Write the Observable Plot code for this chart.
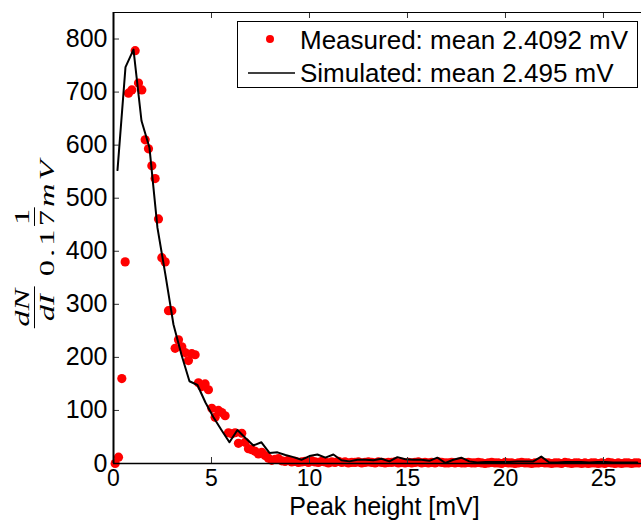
<!DOCTYPE html>
<html>
<head>
<meta charset="utf-8">
<script src="https://cdn.jsdelivr.net/npm/d3@7"></script>
<script src="https://cdn.jsdelivr.net/npm/@observablehq/plot@0.6"></script>
<style>
  html, body { margin: 0; padding: 0; background: white; }
  #wrap { position: relative; width: 641px; height: 526px; overflow: hidden; }
  #ylab { position: absolute; left: 35px; top: 242px; white-space: nowrap;
    transform: translate(-50%, -50%) rotate(-90deg) scaleX(1.55);
    font-family: "Liberation Serif", serif; font-style: italic; font-size: 21px;
    display: flex; align-items: center; color: black; }
  .frac { display: inline-flex; flex-direction: column; align-items: center; }
  .frac .num { padding: 0 1px 1px 1px; border-bottom: 1.3px solid black; line-height: 1; }
  .frac .den { padding: 2px 1px 0 1px; line-height: 1; }
  .up { font-style: normal; }
  #legend { position: absolute; left: 237px; top: 21px; width: 401px; height: 67px;
    border: 1px solid black; background: white; box-sizing: border-box;
    font-family: "Liberation Sans", Arial, sans-serif; font-size: 26px; color: black; }
  #legend .t { position: absolute; left: 62px; line-height: 26px; white-space: nowrap; }
</style>
</head>
<body>
<div id="wrap"></div>
<script>
// Measured histogram (bin width 0.17 mV)
const measuredBinWidth = 0.17;
const measuredFirstCenter = 0.085;
const measuredCounts = [
  0, 12, 160, 380, 698, 704, 778, 717, 704, 610,
  593, 561, 537, 461, 388, 380, 288, 288, 217, 233,
  220, 209, 194, 207, 205, 152, 145, 150, 139, 104,
  87, 100, 96, 90, 58, 56, 58, 38, 57, 40,
  28, 26, 23, 18, 21, 15, 10, 6, 8, 9,
  5, 4, 6, 3, 4, 2,
  3, 4, 2, 5, 3, 2, 4, 3, 1, 3, 2, 4, 2, 3, 1, 2,
  2, 3, 1, 2, 3, 2, 1, 3, 2, 1, 2, 2, 3, 1, 2, 1,
  2, 1, 2, 3, 1, 2, 1, 2, 1, 3, 2, 1, 1, 2, 1, 2, 1, 1,
  2, 1, 1, 2, 1, 0, 1, 2, 1, 1, 0, 2, 1, 1, 0, 1, 2, 1, 1, 0, 1, 1, 2, 1,
  1, 0, 1, 1, 0, 2, 1, 0, 1, 1, 0, 1, 0, 1, 1, 0, 1, 0, 2, 1, 0, 1, 0, 1, 1, 0, 1, 1
];
// Simulated curve (coarser bins)
const simulatedBinWidth = 0.408;
const simulatedFirstCenter = 0.204;
const simulatedCounts = [
  553, 747, 780, 646, 595, 444, 355, 262, 205, 155,
  148, 115, 87, 63, 40, 63, 48, 34, 40, 20,
  21, 16, 12, 7, 14, 17, 11, 17, 6, 4,
  7, 7, 6, 9, 4, 12, 8, 7, 7, 5,
  11, 1, 7, 11, 4, 2, 3, 3, 3, 3,
  4, 4, 4, 13, 2, 2, 3, 3, 3, 2,
  3, 3, 2, 2, 2, 2
];
const xTicks = [0, 5, 10, 15, 20, 25];
const yTicks = [0, 100, 200, 300, 400, 500, 600, 700, 800];
const xLabel = "Peak height [mV]";
const legendLabels = ["Measured: mean 2.4092 mV", "Simulated: mean 2.495 mV"];

const measured = measuredCounts.map((v, i) => ({x: measuredFirstCenter + i * measuredBinWidth, y: v}));
const simulated = simulatedCounts.map((v, i) => ({x: simulatedFirstCenter + i * simulatedBinWidth, y: v}));

const W = 641, H = 526, mL = 113, mT = 12, mB = 63;
const frameH = H - mT - mB, frameW = W - mL;

const chart = Plot.plot({
  width: W, height: H,
  marginLeft: mL, marginRight: 0, marginTop: mT, marginBottom: mB,
  style: {fontFamily: "'Liberation Sans', Arial, sans-serif", fontSize: "25px", color: "black", background: "white"},
  x: {domain: [0, 26.94]},
  y: {domain: [0, 850]},
  marks: [
    Plot.dot(measured, {x: "x", y: "y", r: 4.6, fill: "#ff0000", stroke: "none"}),
    Plot.line(simulated, {x: "x", y: "y", stroke: "black", strokeWidth: 2}),
    // inward tick marks (MATLAB style)
    Plot.tickX(xTicks, {x: d => d, stroke: "#333", strokeWidth: 1, insetTop: frameH - 6}),
    Plot.tickX(xTicks, {x: d => d, stroke: "#333", strokeWidth: 1, insetBottom: frameH - 6}),
    Plot.tickY(yTicks, {y: d => d, stroke: "#333", strokeWidth: 1, insetRight: frameW - 6}),
    Plot.axisX(xTicks, {tickSize: 0, tickPadding: 6, label: null, fontSize: 23}),
    Plot.axisY(yTicks, {tickSize: 0, tickPadding: 6, label: null}),
    Plot.ruleY([0], {stroke: "black", strokeWidth: 1.5}),
    Plot.ruleY([850], {stroke: "black", strokeWidth: 1}),
    Plot.ruleX([0], {stroke: "black", strokeWidth: 2}),
    Plot.text([xLabel], {frameAnchor: "bottom", text: d => d, dx: 7, dy: 51, fontSize: 25})
  ]
});

const wrap = document.getElementById("wrap");
wrap.appendChild(chart);

// y-axis label: dN/dI * 1/(0.17 mV)
const ylab = document.createElement("div");
ylab.id = "ylab";
ylab.innerHTML =
  '<span class="frac"><span class="num">dN</span><span class="den">dI</span></span>' +
  '<span class="frac" style="margin-left:6px"><span class="num up">1</span><span class="den" style="letter-spacing:2px"><span class="up">0.17</span>mV</span></span>';
wrap.appendChild(ylab);

// legend
const legend = document.createElement("div");
legend.id = "legend";
legend.innerHTML =
  '<svg width="60" height="66" style="position:absolute;left:0;top:0">' +
  '<circle cx="32" cy="17" r="4" fill="#ff0000"></circle>' +
  '<line x1="10" x2="57" y1="51" y2="51" stroke="black" stroke-width="1.5"></line></svg>' +
  '<div class="t" style="top:5px">' + legendLabels[0] + '</div>' +
  '<div class="t" style="top:38px">' + legendLabels[1] + '</div>';
wrap.appendChild(legend);
</script>
</body>
</html>
